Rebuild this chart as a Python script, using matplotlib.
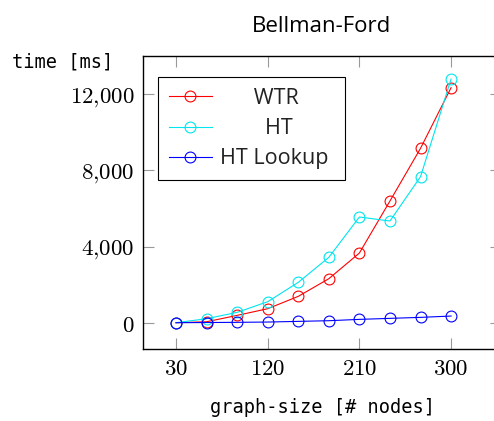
import matplotlib
matplotlib.use('Agg')
import matplotlib.pyplot as plt
from matplotlib.ticker import FuncFormatter

# graph sizes and runtimes in ms
nodes = [30, 60, 90, 120, 150, 180, 210, 240, 270, 300]
wtr = [0, 50, 385, 735, 1383, 2310, 3658, 6388, 9153, 12338]
ht = [0, 210, 543, 1103, 2118, 3430, 5548, 5338, 7665, 12793]
ht_lookup = [0, 10, 20, 35, 70, 105, 175, 228, 280, 350]

xticks = [30, 120, 210, 300]
yticks = [0, 4000, 8000, 12000]

plt.rcParams['mathtext.fontset'] = 'cm'

fig = plt.figure(figsize=(4.94, 4.21), dpi=100)
ax = fig.add_axes([143/494, 72/421, 358/494, 293/421])

mk = dict(marker='o', markersize=7.8, markerfacecolor='none', linewidth=0.8, markeredgewidth=0.8)
ax.plot(nodes, wtr, color='#ff0000', label='      WTR', **mk)
ax.plot(nodes, ht, color='#00e5ee', label='        HT', **mk)
ax.plot(nodes, ht_lookup, color='#0000ff', label='HT Lookup ', **mk)

ax.set_xlim(-2.4, 349)
ax.set_ylim(-1380, 14000)
ax.set_xticks(xticks)
ax.set_yticks(yticks)
ax.xaxis.set_major_formatter(FuncFormatter(lambda v, p: r'$%d$' % v))
ax.yaxis.set_major_formatter(FuncFormatter(lambda v, p: r'$%s$' % format(int(v), ',').replace(',', '{,}')))
ax.tick_params(direction='in', length=8, width=0.8, color='#999999', labelsize=16.5,
               top=True, right=True, pad=6)
for s in ax.spines.values():
    s.set_linewidth(1.0)

ax.set_title('Bellman-Ford', fontfamily='Open Sans', fontsize=16, pad=17)
ax.set_ylabel('time [ms]', fontfamily='DejaVu Sans Mono', fontsize=13.4, rotation=0,
              ha='left', va='center')
ax.yaxis.set_label_coords(-0.366, 0.98)
ax.set_xlabel('graph-size [# nodes]', fontfamily='DejaVu Sans Mono', fontsize=13.4, va='center')
ax.xaxis.set_label_coords(0.5, -0.198)

leg = ax.legend(loc='upper left', bbox_to_anchor=(0.042, 0.928), borderaxespad=0,
                prop={'family': 'Open Sans', 'size': 15.5}, fancybox=False,
                edgecolor='black', framealpha=1, handlelength=2.0, handletextpad=0.4,
                labelspacing=0.43, borderpad=0.5)
leg.get_frame().set_linewidth(0.8)
for t in leg.get_texts():
    t.set_color('#222222')

fig.savefig('out.png', dpi=100)
